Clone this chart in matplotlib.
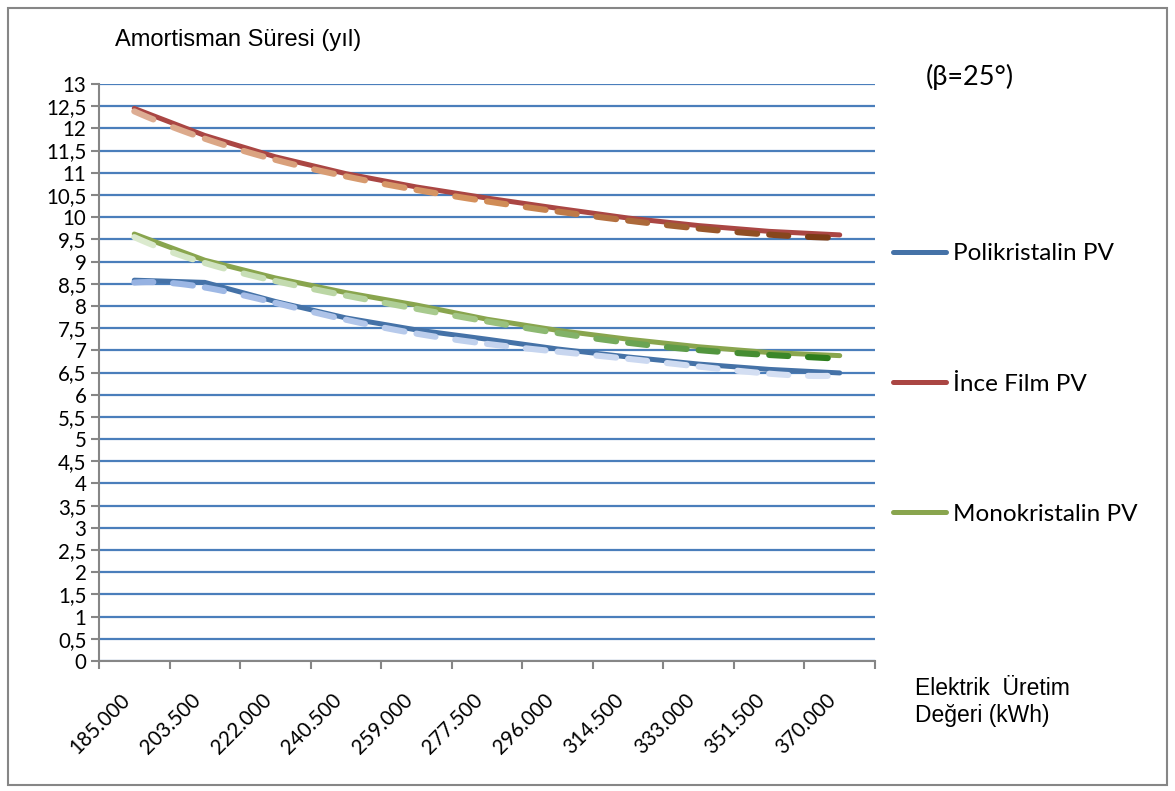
import numpy as np
import matplotlib
matplotlib.use("Agg")
import matplotlib.pyplot as plt
from matplotlib.lines import Line2D
from matplotlib.patches import Rectangle
from matplotlib.colors import LinearSegmentedColormap
import matplotlib.transforms as mtrans

# data
uretim = ["185.000", "203.500", "222.000", "240.500", "259.000", "277.500",
          "296.000", "314.500", "333.000", "351.500", "370.000"]
polikristalin = [8.58, 8.53, 8.10, 7.73, 7.46, 7.25, 7.03, 6.85, 6.69, 6.57, 6.49]
ince_film = [12.45, 11.84, 11.36, 10.98, 10.68, 10.43, 10.20, 9.98, 9.81, 9.68, 9.60]
monokristalin = [9.62, 9.03, 8.63, 8.30, 8.02, 7.70, 7.45, 7.25, 7.08, 6.95, 6.88]

series = [
    ("Polikristalin PV", polikristalin, "#4572A7", ["#95B1E2", "#C3D3EE", "#D8E2F4"]),
    ("İnce Film PV", ince_film, "#AA4643", ["#DDAE94", "#D38E58", "#773711"]),
    ("Monokristalin PV", monokristalin, "#89A54E", ["#DDEBD0", "#9DC380", "#277A17"]),
]

fig = plt.figure(figsize=(11.75, 7.91), dpi=100)
ax = fig.add_axes([99/1175, 1-661/791, 776/1175, 577/791])

x = np.arange(len(uretim))
handles = []
for name, vals, col, tcols in series:
    ax.plot(x, vals, color=col, lw=3.6, solid_capstyle="round", zorder=3)
    handles.append(Line2D([], [], color=col, lw=3.6, solid_capstyle="round"))

# dashed trend lines (polynomial fit), gradient coloured, drawn a bit below
shift = mtrans.offset_copy(ax.transData, fig=fig, x=0, y=-3, units="dots")
for name, vals, col, tcols in series:
    cmap = LinearSegmentedColormap.from_list("t", tcols)
    p = np.polyfit(x, vals, 5)
    for k in range(len(x) - 1):
        for a, b in [(0.0, 0.27), (0.55, 0.83)]:
            xs = np.linspace(k + a, k + b, 8)
            c = cmap((k + (a + b) / 2) / (len(x) - 1))
            ax.plot(xs, np.polyval(p, xs), color=c, lw=4.4,
                    solid_capstyle="round", transform=shift, zorder=4)

ax.set_xlim(-0.5, len(x) - 0.5)
ax.set_ylim(0, 13)
ax.set_yticks(np.arange(0, 13.01, 0.5))
ax.set_yticklabels([("%g" % v).replace(".", ",") for v in np.arange(0, 13.01, 0.5)])
ax.set_xticks(x)
ax.set_xticklabels(uretim, rotation=45, ha="right")
ax.set_xticks(np.arange(-0.5, len(x), 1), minor=True)
ax.tick_params(axis="x", which="major", length=0, pad=21)
ax.tick_params(axis="x", which="minor", length=6, width=1.5, color="#868686", direction="out")
ax.tick_params(axis="y", length=6, width=1.5, color="#868686", direction="out", pad=3)
for lab in ax.get_xticklabels() + ax.get_yticklabels():
    lab.set_fontfamily("Lato")
    lab.set_fontsize(14.8)

ax.grid(axis="y", color="#4A7EBB", lw=1.6, zorder=1)
ax.set_axisbelow(True)
for s in ["top", "right"]:
    ax.spines[s].set_visible(False)
for s in ["left", "bottom"]:
    ax.spines[s].set_color("#868686")
    ax.spines[s].set_linewidth(1.5)

fig.text(115/1175, 1-40/791, "Amortisman Süresi (yıl)", family="Liberation Sans",
         fontsize=17, va="center", ha="left")
fig.text(926/1175, 1-77/791, "(β=25°)", family="Lato", fontsize=19.5, va="center", ha="left")
fig.text(915/1175, 1-702/791, "Elektrik  Üretim\nDeğeri (kWh)", family="Liberation Sans",
         fontsize=16.5, va="center", ha="left", linespacing=1.2)

ax.legend(handles, [s[0] for s in series], loc="center left",
          bbox_to_anchor=(893/1175, 1-384/791), bbox_transform=fig.transFigure,
          frameon=False, borderpad=0, borderaxespad=0, handlelength=2.2,
          handletextpad=0.25, labelspacing=4.5, prop={"family": "Lato", "size": 17.5})

fig.patches.append(Rectangle((8/1175, 1-785/791), 1159/1175, 777/791,
                             transform=fig.transFigure, fill=False,
                             edgecolor="#868686", lw=1.5))

fig.savefig("out.png", dpi=100)
